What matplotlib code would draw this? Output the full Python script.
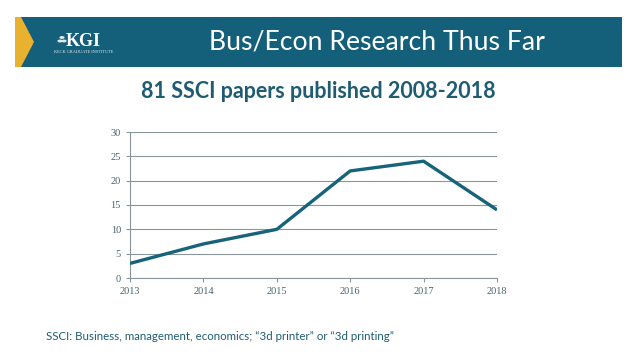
import numpy as np
import matplotlib.pyplot as plt
from matplotlib.patches import Rectangle, Polygon, Circle

# data
years = [2013, 2014, 2015, 2016, 2017, 2018]
papers = [3, 7, 10, 22, 24, 14]
yticks = [0, 5, 10, 15, 20, 25, 30]

W, H = 638, 359
teal = '#14607a'
line_col = '#17637a'
txt_col = '#1f5c74'

fig = plt.figure(figsize=(W / 100, H / 100), dpi=100)

def px(x, y):
    # pixel coords (top-left origin) -> figure fraction
    return x / W, 1 - y / H

# banner
x0, y0 = px(15, 67)
fig.patches.append(Rectangle((x0, y0), (622 - 15) / W, 50 / H, transform=fig.transFigure,
                             facecolor=teal, edgecolor='none'))
chev = [px(15, 17), px(21, 17), px(34, 42), px(21, 67), px(15, 67)]
fig.patches.append(Polygon(chev, closed=True, transform=fig.transFigure,
                           facecolor='#e8b130', edgecolor='none'))
# logo
for cx, cy in [(60, 41), (64, 41), (62, 37.5)]:
    fig.patches.append(Circle(px(cx, cy), 2.6 / W, transform=fig.transFigure,
                              facecolor='#dfe8ec', edgecolor='none'))
fig.text(*px(66, 42), 'KGI', color='white', family='Liberation Serif',
         fontsize=13, fontweight='bold', va='center', ha='left')
fig.text(*px(54, 52), 'KECK GRADUATE INSTITUTE', color='#dfe8ec',
         family='Liberation Serif', fontsize=3.2, va='center', ha='left')

fig.text(*px(377, 42), 'Bus/Econ Research Thus Far', color='white', family='Lato',
         fontsize=19.2, va='center', ha='center')

fig.text(*px(318, 91), '81 SSCI papers published 2008-2018', color=txt_col,
         family='Lato', fontsize=15.5, fontweight='bold', va='center', ha='center')

fig.text(*px(46, 336), 'SSCI: Business, management, economics; \u201c3d printer\u201d or \u201c3d printing\u201d',
         color=txt_col, family='Lato', fontsize=8.3, va='center', ha='left')

# chart
l, b = px(130, 278)
r, t = px(497, 132)
ax = fig.add_axes([l, b, r - l, t - b])
ax.plot(years, papers, color=line_col, linewidth=2.4, solid_capstyle='butt', zorder=3)
ax.set_xlim(2013, 2018)
ax.set_ylim(0, 30)
ax.set_xticks(years)
ax.set_yticks(yticks)
ax.grid(axis='y', color='#8a9699', linewidth=0.8)
for s in ['top', 'right']:
    ax.spines[s].set_visible(False)
for s in ['left', 'bottom']:
    ax.spines[s].set_color('#8a9699')
    ax.spines[s].set_linewidth(0.8)
ax.tick_params(axis='both', colors='#8a9699', labelcolor='#4a6470', labelsize=7.5,
               length=3, width=0.8)
for lab in ax.get_xticklabels() + ax.get_yticklabels():
    lab.set_family('Liberation Serif')

fig.savefig('out.png', dpi=100)
